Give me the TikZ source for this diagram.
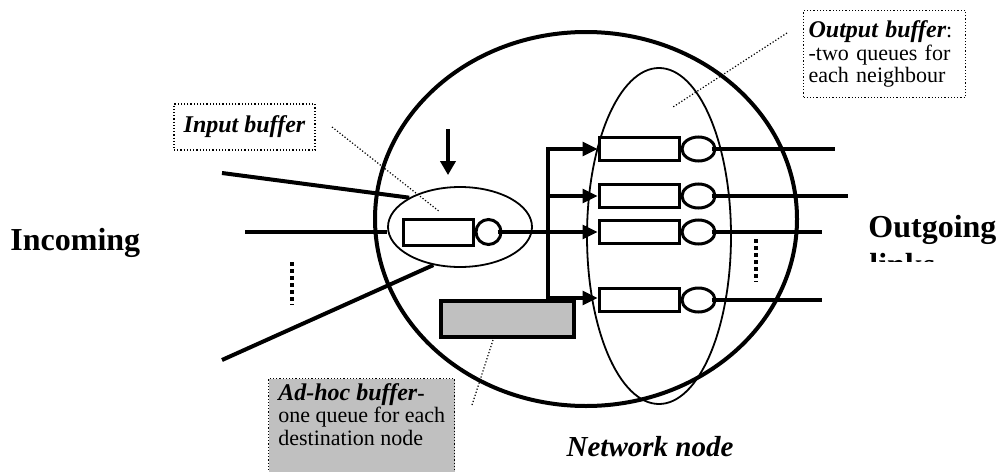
\documentclass[tikz,border=0pt]{standalone}
\usepackage{fontspec}
\setmainfont{Liberation Serif}
\usetikzlibrary{arrows.meta,positioning,shapes.geometric}
\definecolor{adhocgray}{HTML}{C0C0C0}
\newcommand{\tagtitle}[1]{{\fontsize{12}{11.25}\selectfont\bfseries\itshape #1}}

\begin{document}
\begin{tikzpicture}[x=0.5pt, y=-0.5pt,
  link/.style={line width=1.6pt},
  feed/.style={line width=1.6pt, -{Triangle[length=7.5pt,width=7pt]}},
  queue/.style={draw, line width=1.5pt, fill=white, minimum width=40pt, minimum height=11.5pt, inner sep=0pt},
  server/.style={draw, ellipse, line width=1.5pt, fill=white, minimum width=16.5pt, minimum height=12pt, inner sep=0pt},
  region/.style={draw, ellipse, inner sep=0pt},
  tagbox/.style={draw, line width=0.6pt, dash pattern=on 0.6pt off 1pt},
  leader/.style={line width=0.6pt, dash pattern=on 0.6pt off 1pt},
  tag/.style={font=\fontsize{11}{11.25}\selectfont, align=left},
  big/.style={font=\fontsize{16}{19}\selectfont\bfseries, inner sep=0pt},
  etc/.style={line width=2pt, dash pattern=on 2pt off 1.5pt}]
\useasboundingbox (0,0) rectangle (1000,471);
\node[region, line width=2pt, minimum width=211pt, minimum height=187pt] (net) at (586,219) {};
\node[region, line width=0.9pt, minimum width=72pt, minimum height=168pt] (outbuf) at (659,236) {};
\node[region, line width=0.9pt, minimum width=72pt, minimum height=40pt] (inbuf) at (460,227) {};
\node[queue, minimum width=35pt, minimum height=13pt] (iq) at (438,232) {};
\node[server, minimum width=12.5pt, minimum height=12.5pt, right=0pt of iq] (is) {};
\foreach \i/\y in {1/149,2/196,3/232,4/300} {
  \node[queue] (oq\i) at (639,\y) {};
  \node[server, right=0pt of oq\i] (os\i) {};
}
\node[draw, line width=2pt, fill=adhocgray, minimum width=66.5pt, minimum height=18pt, inner sep=0pt] (adhoc) at (507.5,319) {};
\coordinate (bus) at (548,0);
\coordinate (out1) at (835,0);
\coordinate (out2) at (848,0);
\coordinate (out3) at (822,0);
\coordinate (out4) at (822,0);
\coordinate (in1) at (222,173);
\coordinate (in2) at (245,232);
\coordinate (in3) at (222,360);
\coordinate (drop) at (448,129);
\draw[feed] (adhoc.north -| bus) |- (oq1.west);
\draw[feed] (bus |- oq2.west) -- (oq2.west);
\draw[feed] ([xshift=-2.5pt]is.east) -- (oq3.west);
\draw[feed] ([yshift=1pt]bus |- oq4.west) -- ([yshift=1pt]oq4.west);
\foreach \i in {1,...,4}
  \draw[link] ([xshift=-2.5pt]os\i.east) -- (os\i.east -| out\i);
\draw[link, line width=2pt] (in1) -- (inbuf.150);
\draw[link, line width=2pt] (in2) -- (in2 -| inbuf.west);
\draw[link, line width=2pt] (in3) -- (inbuf.235);
\draw[line width=2pt, -{Triangle[length=7pt,width=7.5pt]}] (drop) -- ([yshift=5.5pt]drop |- inbuf.north);
\draw[etc] (292,262) -- (292,305);
\draw[etc] (756,239) -- (756,282);
\node[tagbox, tag, minimum width=70.5pt, minimum height=23pt, inner sep=0pt] (inlabel) at (244.5,127) {\tagtitle{Input buffer}};
\node[tagbox, tag, anchor=north west, text width=76pt, inner xsep=2.5pt, inner ysep=0pt, minimum height=43.5pt] (outlabel) at (803,10) {\tagtitle{Output buffer}:\\-two queues for\\each neighbour};
\node[tagbox, fill=adhocgray, anchor=north west, minimum width=93pt, minimum height=60pt, inner sep=0pt] (adlabel) at (268,378) {};
\node[tag, anchor=north west, inner sep=0pt] (adtext) at ([shift={(10,5)}]adlabel.north west) {\tagtitle{Ad-hoc buffer}\textbf{-}\\one queue for each\\destination node};
\coordinate (inlead) at (332,127);
\coordinate (intip) at (440,212);
\coordinate (outlead) at (787,33);
\coordinate (outtip) at (673,107);
\coordinate (adlead) at (472,405);
\coordinate (adtip) at (493,340);
\draw[leader] (inlead) -- (intip);
\draw[leader] (outlead) -- (outtip);
\draw[leader] (adlead) -- (adtip);
\node[big, anchor=base west] (incoming) at (10,250) {Incoming};
\begin{scope}
  \clip (840,200) rectangle (1000,261);
  \node[big, anchor=base west] (outgoing) at (868,237) {Outgoing};
  \node[big, anchor=base west] (links) at (869,275) {links};
\end{scope}
\node[font=\fontsize{14.5}{17}\selectfont\bfseries\itshape, anchor=base, inner sep=0pt] (nettag) at (650,456) {Network node};
\end{tikzpicture}
\end{document}
